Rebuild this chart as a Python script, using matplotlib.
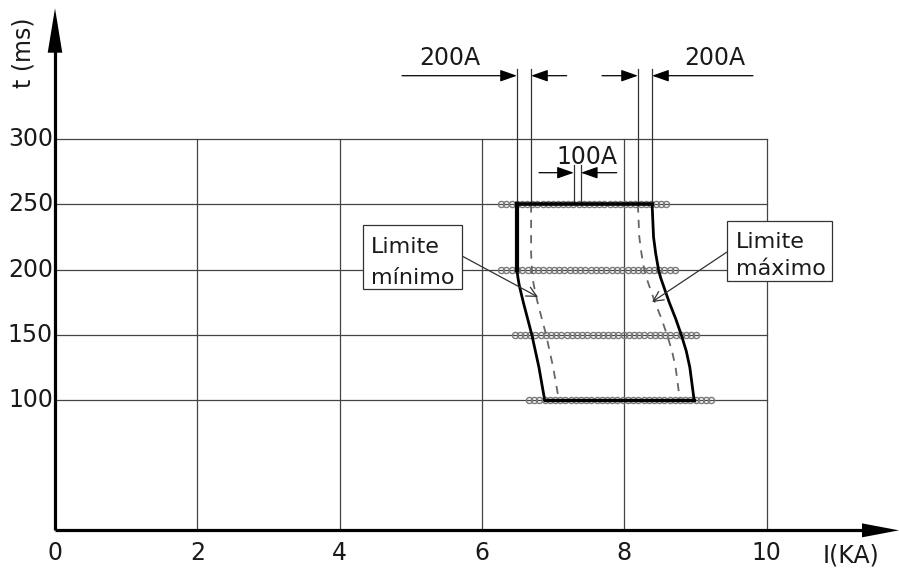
import numpy as np
import matplotlib
matplotlib.use("Agg")
import matplotlib.pyplot as plt
from matplotlib.patches import Rectangle

# ---------------- data ----------------
x_ticks = [0, 2, 4, 6, 8, 10]
y_ticks = [100, 150, 200, 250, 300]
x_label = "I(KA)"
y_label = "t (ms)"

t_curve = [250, 237.5, 225, 212.5, 200, 193.75, 187.5, 175, 162.5, 150, 137.5, 125, 112.5, 100]
solid_left = [6.49, 6.49, 6.49, 6.49, 6.49, 6.505, 6.525, 6.58, 6.64, 6.70, 6.75, 6.80, 6.84, 6.88]
solid_right = [8.39, 8.40, 8.41, 8.44, 8.48, 8.51, 8.55, 8.63, 8.72, 8.80, 8.87, 8.92, 8.95, 8.98]
dashed_left = [6.69, 6.69, 6.69, 6.69, 6.70, 6.71, 6.73, 6.78, 6.84, 6.90, 6.95, 7.00, 7.04, 7.08]
dashed_right = [8.19, 8.20, 8.21, 8.24, 8.28, 8.31, 8.35, 8.43, 8.52, 8.60, 8.67, 8.72, 8.75, 8.78]

# rows of test points: time, first current, last current, count
dot_rows_t = [250, 200, 150, 100]
dot_rows_start = [6.27, 6.27, 6.46, 6.66]
dot_rows_end = [8.59, 8.71, 9.01, 9.22]
dot_rows_n = [33, 34, 36, 36]

mid_marks = [7.29, 7.39]          # the 100A dimension
label_left = ["Limite", "mínimo"]
label_right = ["Limite", "máximo"]
dim_big = "200A"
dim_small = "100A"

# ---------------- layout helpers (pixel -> data) ----------------
W, H = 899, 573
def X(px):
    return (px - 55.0) / 71.17
def T(py):
    return (530.35 - py) / 1.3035

fig = plt.figure(figsize=(W / 100, H / 100), dpi=100)
ax = fig.add_axes([0, 0, 1, 1])
ax.set_xlim(X(0), X(W))
ax.set_ylim(T(H), T(0))
ax.axis("off")

FONT = "DejaVu Sans"
FS = 17
TXT = "#1a1a1a"
GRID = "#444444"

# ---------------- grid ----------------
for xv in x_ticks[1:]:
    ax.plot([xv, xv], [0, y_ticks[-1]], color=GRID, lw=0.9, zorder=1)
for yv in y_ticks:
    ax.plot([0, x_ticks[-1]], [yv, yv], color=GRID, lw=0.9, zorder=1)

# ---------------- axes with arrows ----------------
ax.plot([0, 0], [0, T(50)], color="black", lw=2.3, zorder=5, solid_capstyle="butt")
ax.plot([0, X(865)], [0, 0], color="black", lw=2.3, zorder=5, solid_capstyle="butt")
ax.fill([X(55 - 7.3), X(55 + 7.3), X(55)], [T(52.7), T(52.7), T(8.3)],
        color="black", zorder=6, lw=0)
ax.fill([X(862), X(862), X(899)], [T(530.35 - 7), T(530.35 + 7), 0],
        color="black", zorder=6, lw=0)

# ---------------- tick labels ----------------
for xv in x_ticks:
    ax.text(xv, T(553), str(xv), ha="center", va="center", fontsize=FS,
            family=FONT, color=TXT)
for yv in y_ticks:
    ax.text(X(53), yv, str(yv), ha="right", va="center", fontsize=FS,
            family=FONT, color=TXT)
ax.text(X(851), T(556), x_label, ha="center", va="center", fontsize=FS,
        family=FONT, color=TXT)
ax.text(X(23), T(53), y_label, ha="center", va="center", rotation=90,
        fontsize=FS, family=FONT, color=TXT)

# ---------------- test-point circles ----------------
for tv, a, b, n in zip(dot_rows_t, dot_rows_start, dot_rows_end, dot_rows_n):
    xs = np.linspace(a, b, n)
    ax.plot(xs, np.full(n, tv), ls="none", marker="o", ms=4.4, mfc="none",
            mec="#7a7a7a", mew=1.0, zorder=3)

# ---------------- limit curves ----------------
ax.plot(dashed_left, t_curve, color="#666666", lw=1.3, dashes=(4.5, 4), zorder=4)
ax.plot(dashed_right, t_curve, color="#666666", lw=1.3, dashes=(4.5, 4), zorder=4)
ax.plot(solid_left, t_curve, color="black", lw=2.0, zorder=7, solid_joinstyle="round")
ax.plot(solid_right, t_curve, color="black", lw=2.0, zorder=7, solid_joinstyle="round")
ax.plot(solid_left[:5], t_curve[:5], color="black", lw=3.0, zorder=7)
ax.plot([solid_left[0], solid_right[0]], [t_curve[0], t_curve[0]],
        color="black", lw=2.6, zorder=7)
ax.plot([solid_left[-1], solid_right[-1]], [t_curve[-1], t_curve[-1]],
        color="black", lw=2.4, zorder=7)

# ---------------- dimension marks ----------------
def ext_line(xv, top_px):
    ax.plot([xv, xv], [T(top_px), t_curve[0] + 1.5], color="#333333", lw=0.9, zorder=4)

def dim_arrow(x_from, x_to, y_px):
    ax.annotate("", xy=(x_to, T(y_px)), xytext=(x_from, T(y_px)),
                arrowprops=dict(arrowstyle="-|>,head_length=0.85,head_width=0.3",
                                color="black", lw=0.9, shrinkA=0, shrinkB=0,
                                mutation_scale=12), zorder=8)

for xv in (solid_left[0], dashed_left[0], dashed_right[0], solid_right[0]):
    ext_line(xv, 69)
for xv in mid_marks:
    ext_line(xv, 165)

dim_arrow(X(402), solid_left[0], 75.7)
dim_arrow(X(566.7), dashed_left[0], 75.7)
dim_arrow(X(602), dashed_right[0], 75.7)
dim_arrow(X(753), solid_right[0], 75.7)
dim_arrow(X(539), mid_marks[0], 172.7)
dim_arrow(X(616.7), mid_marks[1], 172.7)

ax.text(X(450), T(58), dim_big, ha="center", va="center", fontsize=FS,
        family=FONT, color=TXT)
ax.text(X(715), T(58), dim_big, ha="center", va="center", fontsize=FS,
        family=FONT, color=TXT)
ax.text(X(587), T(157), dim_small, ha="center", va="center", fontsize=FS,
        family=FONT, color=TXT)

# ---------------- label boxes ----------------
def label_box(x0, y0, x1, y1, lines, tx, base1, base2):
    ax.add_patch(Rectangle((X(x0), T(y1)), X(x1) - X(x0), T(y0) - T(y1),
                           fc="white", ec="#333333", lw=0.9, zorder=9))
    ax.text(X(tx), T(base1), lines[0], ha="left", va="baseline", fontsize=FS - 1,
            family=FONT, color=TXT, zorder=10)
    ax.text(X(tx), T(base2), lines[1], ha="left", va="baseline", fontsize=FS - 1,
            family=FONT, color=TXT, zorder=10)

label_box(363, 225, 462, 289, label_left, 371, 253, 284)
label_box(727, 221, 832, 281, label_right, 736, 248, 275)

ax.annotate("", xy=(X(538), T(297)), xytext=(X(462), T(256)),
            arrowprops=dict(arrowstyle="->,head_length=0.6,head_width=0.3",
                            color="#333333", lw=0.9, shrinkA=0, shrinkB=0,
                            mutation_scale=12), zorder=8)
ax.annotate("", xy=(X(652), T(302)), xytext=(X(727), T(252)),
            arrowprops=dict(arrowstyle="->,head_length=0.6,head_width=0.3",
                            color="#333333", lw=0.9, shrinkA=0, shrinkB=0,
                            mutation_scale=12), zorder=8)

fig.savefig("out.png", dpi=100, facecolor="white")
